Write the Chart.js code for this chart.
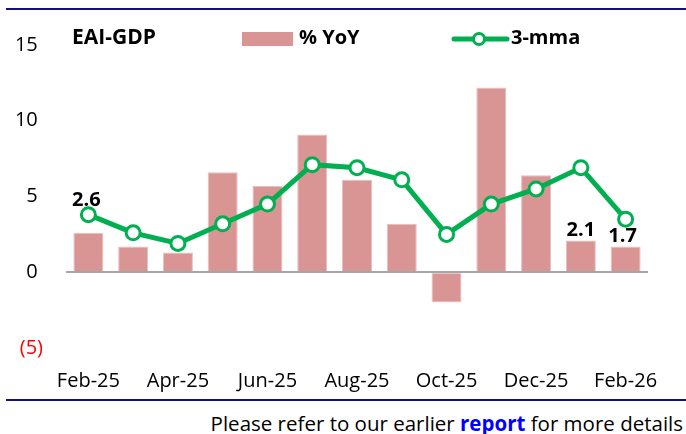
<!DOCTYPE html>
<html>
<head>
<meta charset="utf-8">
<script src="https://cdn.jsdelivr.net/npm/chart.js@4.4.1/dist/chart.umd.min.js"></script>
<style>
  html, body { margin: 0; padding: 0; background: #ffffff; }
  #wrap { position: relative; width: 686px; height: 434px; overflow: hidden; background: #fff; }
  #chartBox { position: absolute; left: 0; top: 0; width: 686px; height: 400px; }
  .rule { position: absolute; left: 6px; right: 0; height: 2px; background: #0f0f80; }
  #footer { position: absolute; right: 3px; top: 409px; line-height: 28px; font-family: "Open Sans", sans-serif; font-size: 20.5px; color: #000; white-space: nowrap; }
  #footer b { color: #0000ff; }
</style>
</head>
<body>
<div id="wrap">
  <div class="rule" style="top:8px"></div>
  <div id="chartBox"><canvas id="c" width="686" height="400"></canvas></div>
  <div class="rule" style="top:399px"></div>
  <div id="footer">Please refer to our earlier <b>report</b> for more details</div>
</div>
<script>
// ---- data ----
const categories = ["Feb-25","Mar-25","Apr-25","May-25","Jun-25","Jul-25","Aug-25","Sep-25","Oct-25","Nov-25","Dec-25","Jan-26","Feb-26"];
const yoyValues  = [2.6, 1.7, 1.3, 6.6, 5.7, 9.1, 6.1, 3.2, -2.0, 12.2, 6.4, 2.1, 1.7];
const mmaValues  = [3.8, 2.6, 1.9, 3.2, 4.5, 7.1, 6.9, 6.1, 2.5, 4.5, 5.5, 6.9, 3.5];
const yTicks     = [-5, 0, 5, 10, 15];
const labelledBars = [0, 11, 12];
const chartTitle = "EAI-GDP";
const seriesNames = ["% YoY", "3-mma"];

const BAR = "#D99594";
const GREEN = "#00B050";
const FONT = "'Open Sans', sans-serif";

const labelOffsets = { 0: [-2, -33], 11: [0, -10], 12: [-3, -10] };

const customDecor = {
  id: "customDecor",
  afterDatasetsDraw(chart) {
    const ctx = chart.ctx;
    const meta = chart.getDatasetMeta(1);
    ctx.save();
    ctx.font = "bold 20px " + FONT;
    ctx.fillStyle = "#000";
    ctx.textAlign = "center";
    ctx.textBaseline = "middle";
    labelledBars.forEach(i => {
      const el = meta.data[i];
      const off = labelOffsets[i] || [0, -10];
      ctx.fillText(yoyValues[i].toFixed(1), el.x + off[0], el.y + off[1]);
    });
    ctx.restore();
  },
  afterDraw(chart) {
    const ctx = chart.ctx;
    ctx.save();
    ctx.textBaseline = "middle";
    ctx.textAlign = "left";
    ctx.fillStyle = "#000";
    ctx.font = "bold 21px " + FONT;
    ctx.fillText(chartTitle, 72, 38);
    // bar legend
    ctx.fillStyle = BAR;
    ctx.fillRect(242, 32, 51, 14);
    ctx.fillStyle = "#000";
    ctx.font = "bold 20px " + FONT;
    ctx.fillText(seriesNames[0], 299, 38);
    // line legend
    ctx.strokeStyle = GREEN;
    ctx.lineWidth = 5;
    ctx.lineCap = "round";
    ctx.beginPath();
    ctx.moveTo(454, 39);
    ctx.lineTo(507, 39);
    ctx.stroke();
    ctx.beginPath();
    ctx.arc(479, 39, 5.5, 0, Math.PI * 2);
    ctx.fillStyle = "#fff";
    ctx.fill();
    ctx.lineWidth = 3;
    ctx.stroke();
    ctx.fillStyle = "#000";
    ctx.fillText(seriesNames[1], 511, 38);
    ctx.restore();
  }
};

new Chart(document.getElementById("c"), {
  type: "bar",
  data: {
    labels: categories,
    datasets: [
      {
        type: "line",
        label: seriesNames[1],
        data: mmaValues,
        borderColor: GREEN,
        borderWidth: 5,
        pointRadius: 7,
        pointBorderWidth: 3,
        pointBackgroundColor: "#ffffff",
        pointBorderColor: GREEN,
        tension: 0,
        order: 1
      },
      {
        type: "bar",
        label: seriesNames[0],
        data: yoyValues,
        backgroundColor: BAR,
        borderColor: "#E8BFBE",
        borderWidth: 1,
        barPercentage: 0.67,
        categoryPercentage: 1.0,
        order: 2
      }
    ]
  },
  options: {
    responsive: false,
    animation: false,
    devicePixelRatio: 1,
    layout: { padding: { top: 45, right: 38, left: 0, bottom: 0 } },
    plugins: { legend: { display: false }, tooltip: { enabled: false }, title: { display: false } },
    scales: {
      x: {
        grid: { display: false },
        border: { display: false },
        ticks: {
          autoSkip: false,
          maxRotation: 0,
          padding: 13,
          color: "#000",
          font: { family: FONT, size: 20 },
          callback: (v, i) => (i % 2 === 0 ? categories[i] : "")
        },
        afterFit: s => { s.height = 52; }
      },
      y: {
        min: yTicks[0],
        max: yTicks[yTicks.length - 1],
        afterBuildTicks: s => { s.ticks = yTicks.map(v => ({ value: v })); },
        grid: {
          drawTicks: false,
          color: c => (c.tick && c.tick.value === 0 ? "#A6A6A6" : "rgba(0,0,0,0)"),
          lineWidth: 2
        },
        border: { display: false },
        ticks: {
          padding: 23,
          color: c => (c.tick.value < 0 ? "#ff0000" : "#000"),
          font: { family: FONT, size: 20 },
          callback: v => (v < 0 ? "(" + Math.abs(v) + ")" : v + "\u2008")
        },
        afterFit: s => { s.width = 66; }
      }
    }
  },
  plugins: [customDecor]
});
</script>
</body>
</html>
